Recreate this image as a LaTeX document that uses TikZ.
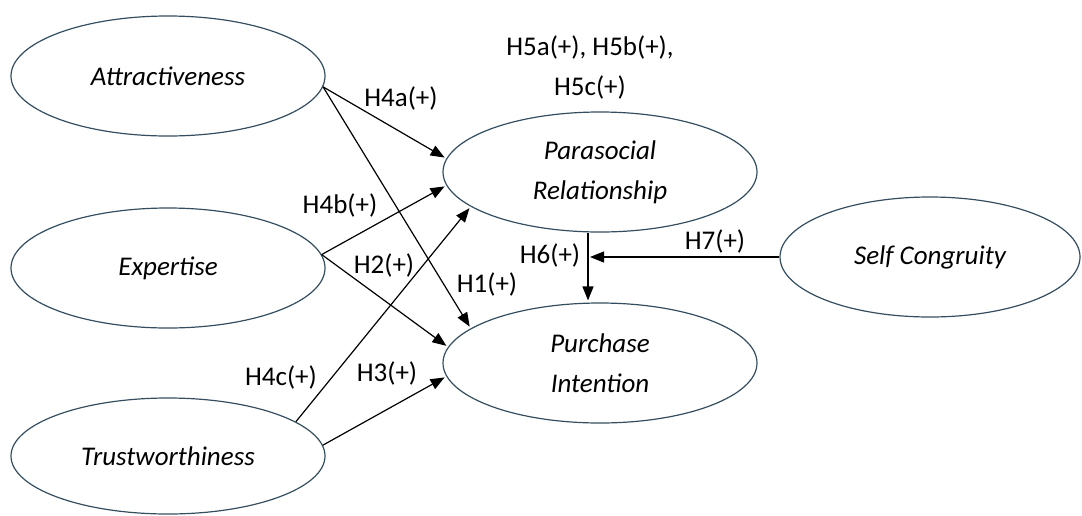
\documentclass[tikz,border=0pt]{standalone}
\usepackage{fontspec}
\setmainfont{Carlito}
\usetikzlibrary{arrows.meta,calc,shapes.geometric}
\definecolor{ellline}{RGB}{52,78,96}
\newcommand{\lblfont}{\fontsize{27}{40}\selectfont}
\tikzset{
  construct/.style={ellipse,draw=ellline,line width=1.2pt,minimum width=314pt,
    minimum height=120pt,inner sep=0pt,align=center,font=\lblfont\itshape},
  hyp/.style={-{Triangle[length=14pt,width=11pt]},line width=1.2pt,shorten >=2pt},
  hlab/.style={inner sep=0pt,align=center,font=\lblfont}
}
\begin{document}
\begin{tikzpicture}[x=1pt,y=-1pt]
	\useasboundingbox (0,0) rectangle (1082,515);
	% constructs
	\node[construct] (Att) at (168,76) {Attractiveness};
	\node[construct] (Exp) at (168,268) {Expertise};
	\node[construct,minimum height=116pt] (Tru) at (168,456) {Trustworthiness};
	\node[construct] (PSR) at (600,172) {Parasocial\\Relationship};
	\node[construct] (PI) at (600,363) {Purchase\\Intention};
	\node[construct,minimum width=300pt] (SC) at (930,257) {Self Congruity};
%
	\draw[hyp] (Att.-4) -- (PSR.175);
	\draw[hyp] (Att.-4) -- (PI.165);
	\draw[hyp] (Exp.5) -- (PSR.185);
	\draw[hyp] (Exp.5) -- (PI.174);
	\draw[hyp] (Tru.15) -- (PSR.195);
	\draw[hyp] (Tru.4) -- (PI.185);
	\coordinate (H6top) at ($(PSR.south)+(-12,0)$);
	\draw[hyp] (H6top) -- (H6top |- PI.north);
	\draw[hyp] (SC.west) -- (SC.west -| H6top);
	% hypothesis labels
	\node[hlab] (lH5) at (590,67) {H5a(+), H5b(+),\\H5c(+)};
	\node[hlab] (lH4a) at (401,98) {H4a(+)};
	\node[hlab] (lH4b) at (340,205) {H4b(+)};
	\node[hlab] (lH2) at (384,265) {H2(+)};
	\node[hlab] (lH1) at (487,284) {H1(+)};
	\node[hlab] (lH4c) at (281,377) {H4c(+)};
	\node[hlab] (lH3) at (387,373) {H3(+)};
	\node[hlab] (lH6) at (550,255) {H6(+)};
	\node[hlab] (lH7) at (715,241) {H7(+)};
\end{tikzpicture}
\end{document}
